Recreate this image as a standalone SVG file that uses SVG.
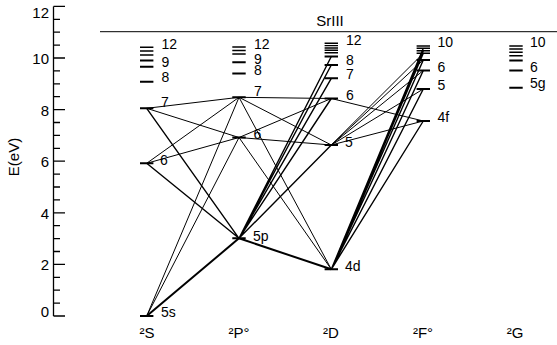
<svg xmlns="http://www.w3.org/2000/svg" width="557" height="345" viewBox="0 0 557 345">
<style>
text{font-family:"Liberation Sans",Arial,sans-serif;fill:#000}
.ax{font-size:15px}
.lv{font-size:14px}
.col{font-size:15px}
.bar{stroke:#000;stroke-width:2;fill:none}
.thin{stroke-width:1.4}
.tr{stroke:#000;stroke-width:1;fill:none}
.st{stroke-width:2}
.md{stroke-width:1.4}
</style>
<rect width="557" height="345" fill="#fff"/>
<g id="axis">
<path d="M53.5,6.4V316" stroke="#000" stroke-width="1.3"/>
<path stroke="#000" stroke-width="1.3" d="M53.5,6.4h11.5M53.5,58h11.5M53.5,109.6h11.5M53.5,161.2h11.5M53.5,212.8h11.5M53.5,264.4h11.5M53.5,316h11.5M53.5,19.3h6.5M53.5,32.2h6.5M53.5,45.1h6.5M53.5,70.9h6.5M53.5,83.8h6.5M53.5,96.7h6.5M53.5,122.5h6.5M53.5,135.4h6.5M53.5,148.3h6.5M53.5,174.1h6.5M53.5,187h6.5M53.5,199.9h6.5M53.5,225.7h6.5M53.5,238.6h6.5M53.5,251.5h6.5M53.5,277.3h6.5M53.5,290.2h6.5M53.5,303.1h6.5"/>
<g class="ax" text-anchor="end">
<text x="49" y="17.5">12</text>
<text x="49" y="64">10</text>
<text x="49" y="115.5">8</text>
<text x="49" y="167">6</text>
<text x="49" y="218.5">4</text>
<text x="49" y="270">2</text>
<text x="49" y="316.5">0</text>
</g>
<text class="ax" transform="translate(19,157) rotate(-90)" text-anchor="middle">E(eV)</text>
</g>
<g id="title">
<path d="M100,31.7H557" stroke="#000" stroke-width="1"/>
<text class="ax" x="330" y="25.5" text-anchor="middle">SrIII</text>
</g>
<g id="connectors">
<path class="tr st" d="M146.7,316L239,238.3"/>
<path class="tr" d="M146.7,316L239,137.5M146.7,316L239,97.3"/>
<path class="tr md" d="M146.7,163.3L239,238.3M146.7,108.3L239,238.3"/>
<path class="tr" d="M146.7,163.3L239,137.5M146.7,163.3L239,97.3M146.7,108.3L239,137.5M146.7,108.3L239,97.3"/>
<path class="tr st" d="M239,238.3L331.3,269.3"/>
<path class="tr md" d="M239,238.3L331.3,145M239,238.3L331.3,98.5M239,238.3L331.3,78.3M239,238.3L331.3,65M239,238.3L331.3,56.5"/>
<path class="tr" d="M239,137.5L331.3,269.3M239,137.5L331.3,145M239,137.5L331.3,98.5M239,97.3L331.3,269.3M239,97.3L331.3,145M239,97.3L331.3,98.5"/>
<path class="tr md" d="M331.3,269.3L423.3,121M331.3,269.3L423.3,89M331.3,269.3L423.3,70.5M331.3,269.3L423.3,60M331.3,269.3L423.3,53.3M331.3,269.3L423.3,50.7M331.3,269.3L423.3,48.3"/>
<path class="tr" d="M331.3,145L423.3,121M331.3,145L423.3,89M331.3,145L423.3,70.5M331.3,145L423.3,60M331.3,145L423.3,53.3M331.3,98.5L423.3,121"/>
</g>
<g id="col-S">
<path class="bar" d="M140,316h13.4M140,163.3h13.4M140,108.3h13.4M140,81.7h13.4M140,66.7h13.4M140,60.5h13.4"/>
<path class="bar thin" d="M140,55h13.4M140,51h13.4M140,47.3h13.4"/>
<g class="lv"><text x="161" y="317">5s</text><text x="160" y="164.5">6</text><text x="161" y="106.5">7</text><text x="161.5" y="82">8</text><text x="161.5" y="67">9</text><text x="161.5" y="48.5">12</text></g>
<text class="col" x="147" y="338" text-anchor="middle">²S</text>
</g>
<g id="col-P">
<path class="bar" d="M232.3,238.3h13.4M232.3,137.5h13.4M232.3,97.3h13.4M232.3,73.5h13.4M232.3,62.3h13.4"/>
<path class="bar thin" d="M232.3,54h13.4M232.3,50.5h13.4M232.3,47h13.4"/>
<g class="lv"><text x="253" y="241">5p</text><text x="253.5" y="139">6</text><text x="254" y="96">7</text><text x="254" y="75">8</text><text x="254" y="64">9</text><text x="254" y="48.5">12</text></g>
<text class="col" x="239" y="338" text-anchor="middle">²P°</text>
</g>
<g id="col-D">
<path class="bar" d="M324.6,269.3h13.4M324.6,145h13.4M324.6,98.5h13.4M324.6,78.3h13.4M324.6,65h13.4M324.6,56.5h13.4"/>
<path class="bar thin" d="M324.6,52.7h13.4M324.6,50.3h13.4M324.6,48h13.4M324.6,45.6h13.4M324.6,43.3h13.4"/>
<g class="lv"><text x="345" y="270.5">4d</text><text x="345" y="146.5">5</text><text x="346" y="100">6</text><text x="346" y="79">7</text><text x="346" y="64.5">8</text><text x="346" y="45">12</text></g>
<text class="col" x="331" y="338" text-anchor="middle">²D</text>
</g>
<g id="col-F">
<path class="bar" d="M416.6,121h13.4M416.6,89h13.4M416.6,70.5h13.4M416.6,60h13.4"/>
<path class="bar thin" d="M416.6,53.3h13.4M416.6,50.7h13.4M416.6,48.3h13.4M416.6,46h13.4"/>
<g class="lv"><text x="437.5" y="122">4f</text><text x="437.5" y="89.5">5</text><text x="437.5" y="71.5">6</text><text x="437.5" y="47">10</text></g>
<text class="col" x="423" y="338" text-anchor="middle">²F°</text>
</g>
<g id="col-G">
<path class="bar" d="M509.3,87.7h13.4M509.3,70.5h13.4M509.3,60.5h13.4"/>
<path class="bar thin" d="M509.3,55.7h13.4M509.3,52.3h13.4M509.3,49h13.4M509.3,46h13.4"/>
<g class="lv"><text x="530" y="88">5g</text><text x="530" y="71.5">6</text><text x="530" y="47">10</text></g>
<text class="col" x="515" y="338" text-anchor="middle">²G</text>
</g>
</svg>
